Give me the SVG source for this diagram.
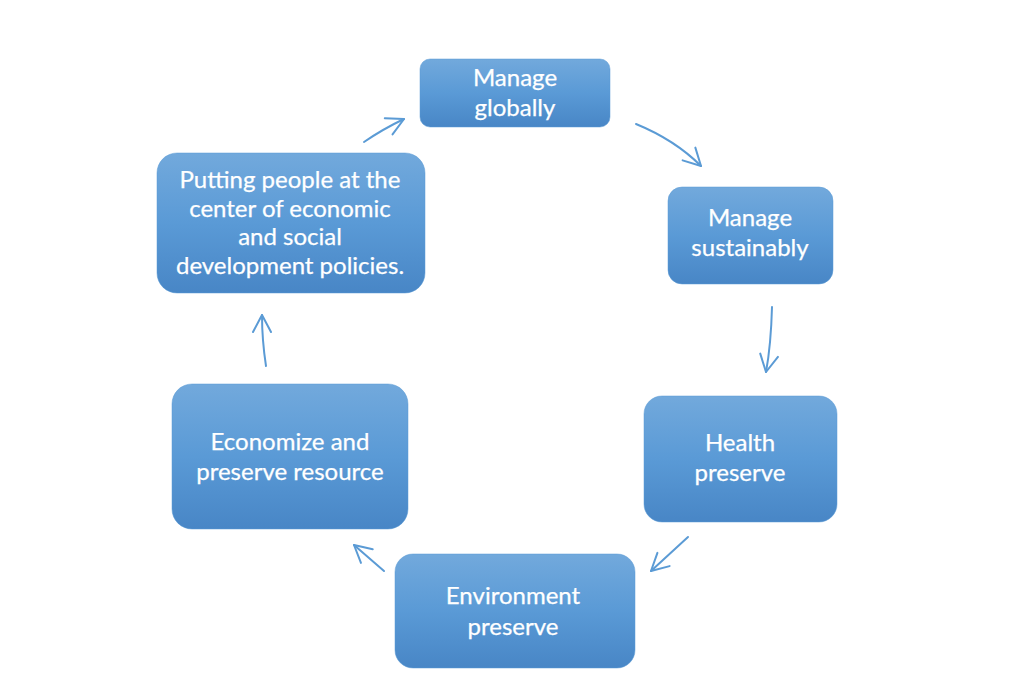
<svg xmlns="http://www.w3.org/2000/svg" width="1024" height="693" viewBox="0 0 1024 693">
<style>
.box{fill:url(#g);stroke:#5b9bd5;stroke-width:0.5}
.t{font-family:"Lato","Open Sans","Liberation Sans",sans-serif;font-size:24px;fill:#ffffff;text-anchor:middle;stroke:#ffffff;stroke-width:0.25}
.c{fill:none;stroke:#5b9bd5;stroke-width:2;stroke-linecap:round}
</style>
<defs>
<linearGradient id="g" x1="0" y1="0" x2="0" y2="1">
<stop offset="0" stop-color="#72a9dc"/>
<stop offset="0.5" stop-color="#5a9ad6"/>
<stop offset="1" stop-color="#4886c6"/>
</linearGradient>
<marker id="a" viewBox="-20 -11 24 22" markerWidth="24" markerHeight="22" refX="0" refY="0" orient="auto" markerUnits="userSpaceOnUse">
<path d="M-17,-9 L0,0 L-17,9" fill="none" stroke="#5b9bd5" stroke-width="2" stroke-linecap="round" stroke-linejoin="round"/>
</marker>
</defs>
<rect width="1024" height="693" fill="#ffffff"/>
<g id="connectors">
<path class="c" d="M364,142 Q383,129 404,119" marker-end="url(#a)"/>
<path class="c" d="M636,124 Q675,140 701,166" marker-end="url(#a)"/>
<path class="c" d="M772,307 Q771,345 766,372" marker-end="url(#a)"/>
<path class="c" d="M688,537 L651,571" marker-end="url(#a)"/>
<path class="c" d="M384,571 L354,545" marker-end="url(#a)"/>
<path class="c" d="M266,366 Q262,340 262,315" marker-end="url(#a)"/>
</g>
<g id="n1">
<rect class="box" x="420" y="59" width="190" height="68" rx="10"/>
<text class="t" x="515" y="86">Manage</text>
<text class="t" x="515" y="116">globally</text>
</g>
<g id="n2">
<rect class="box" x="668" y="187" width="165" height="97" rx="14"/>
<text class="t" x="750" y="226">Manage</text>
<text class="t" x="750" y="256">sustainably</text>
</g>
<g id="n3">
<rect class="box" x="644" y="396" width="193" height="126" rx="18"/>
<text class="t" x="740" y="451">Health</text>
<text class="t" x="740" y="481">preserve</text>
</g>
<g id="n4">
<rect class="box" x="395" y="554" width="240" height="114" rx="18"/>
<text class="t" x="513" y="604">Environment</text>
<text class="t" x="513" y="635">preserve</text>
</g>
<g id="n5">
<rect class="box" x="172" y="384" width="236" height="145" rx="20"/>
<text class="t" x="290" y="450">Economize and</text>
<text class="t" x="290" y="480">preserve resource</text>
</g>
<g id="n6">
<rect class="box" x="157" y="153" width="268" height="140" rx="20"/>
<text class="t" x="290" y="188">Putting people at the</text>
<text class="t" x="290" y="217">center of economic</text>
<text class="t" x="290" y="245">and social</text>
<text class="t" x="290" y="274">development policies.</text>
</g>
</svg>
